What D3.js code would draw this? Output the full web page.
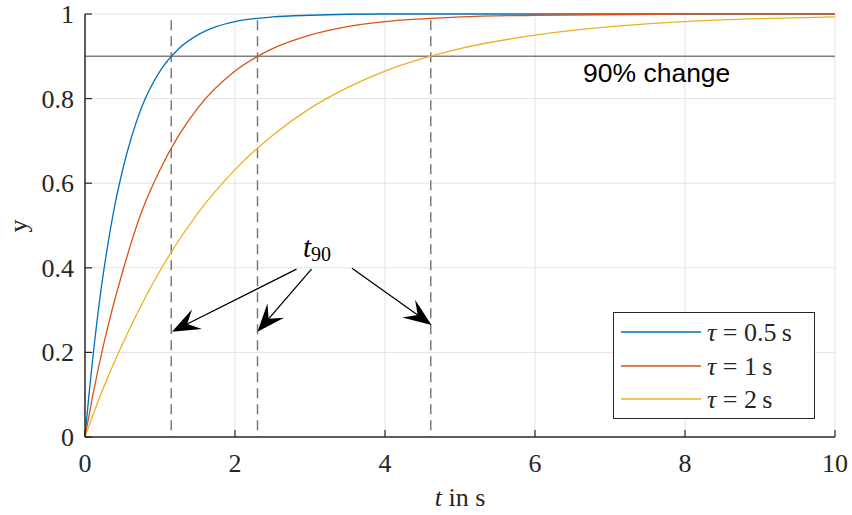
<!DOCTYPE html>
<html>
<head>
<meta charset="utf-8">
<script src="https://cdn.jsdelivr.net/npm/d3@7"></script>
<style>
  html, body { margin: 0; padding: 0; background: #fff; }
  svg { display: block; }
  .tick-label { font-family: "Liberation Serif", "DejaVu Serif", serif; font-size: 26px; fill: #262626; }
</style>
</head>
<body>
<div id="chart"></div>
<script>
// values
const tFast = [0, 0.05, 0.1, 0.2, 0.3, 0.4, 0.5, 0.75, 1, 1.25, 1.5, 1.75, 2, 2.5, 3, 4, 6, 8, 10];
const yFast = [0, 0.095, 0.18, 0.33, 0.45, 0.55, 0.63, 0.777, 0.865, 0.918, 0.95, 0.97, 0.982, 0.993, 0.997, 1, 1, 1, 1];

const tMid = [0, 0.1, 0.25, 0.5, 0.75, 1, 1.25, 1.5, 2, 2.5, 3, 3.5, 4, 5, 6, 8, 10];
const yMid = [0, 0.095, 0.22, 0.39, 0.53, 0.632, 0.713, 0.777, 0.865, 0.918, 0.95, 0.97, 0.982, 0.993, 0.997, 1, 1];

const tSlow = [0, 0.25, 0.5, 1, 1.5, 2, 2.5, 3, 3.5, 4, 5, 6, 7, 8, 9, 10];
const ySlow = [0, 0.118, 0.22, 0.393, 0.528, 0.632, 0.713, 0.777, 0.826, 0.865, 0.918, 0.95, 0.97, 0.982, 0.989, 0.993];

const seriesNames = ["\u03C4 = 0.5\u2009s", "\u03C4 = 1\u2009s", "\u03C4 = 2\u2009s"];
const seriesColors = ["#0072BD", "#D95319", "#EDB120"];

const t90 = [1.15, 2.30, 4.61];
const level90 = 0.9;

// arrow start / tip in data units
const arrows = [
    { x0: 2.82, y0: 0.397, x1: 1.16, y1: 0.249 },
    { x0: 3.02, y0: 0.397, x1: 2.30, y1: 0.249 },
    { x0: 3.56, y0: 0.399, x1: 4.62, y1: 0.265 }
];

const xTicks = [0, 2, 4, 6, 8, 10];
const yTicks = [0, 0.2, 0.4, 0.6, 0.8, 1];

const width = 852, height = 515;
const margin = { left: 85, right: 17, top: 14, bottom: 78 };

const svg = d3.select("#chart").append("svg")
    .attr("width", width)
    .attr("height", height);

const x = d3.scaleLinear().domain([0, 10]).range([margin.left, width - margin.right]);
const y = d3.scaleLinear().domain([0, 1]).range([height - margin.bottom, margin.top]);

// grid
svg.append("g").selectAll("line.vg")
    .data(xTicks.slice(1))
    .enter().append("line")
    .attr("x1", d => x(d)).attr("x2", d => x(d))
    .attr("y1", y(0)).attr("y2", y(1))
    .attr("stroke", "#e3e3e3").attr("stroke-width", 1);

svg.append("g").selectAll("line.hg")
    .data(yTicks.slice(1))
    .enter().append("line")
    .attr("x1", x(0)).attr("x2", x(10))
    .attr("y1", d => y(d)).attr("y2", d => y(d))
    .attr("stroke", "#e3e3e3").attr("stroke-width", 1);

// 90% level
svg.append("line")
    .attr("x1", x(0)).attr("x2", x(10))
    .attr("y1", y(level90)).attr("y2", y(level90))
    .attr("stroke", "#808080").attr("stroke-width", 1.5);

// t90 dashed lines
svg.append("g").selectAll("line")
    .data(t90)
    .enter().append("line")
    .attr("x1", d => x(d)).attr("x2", d => x(d))
    .attr("y1", y(0.985)).attr("y2", y(0))
    .attr("stroke", "#7a7a7a").attr("stroke-width", 1.5)
    .attr("stroke-dasharray", "10,6");

// curves
const line = d3.line()
    .x(d => x(d[0]))
    .y(d => y(d[1]))
    .curve(d3.curveMonotoneX);

const series = [
    d3.zip(tFast, yFast),
    d3.zip(tMid, yMid),
    d3.zip(tSlow, ySlow)
];

svg.append("g").selectAll("path")
    .data(series)
    .enter().append("path")
    .attr("d", line)
    .attr("fill", "none")
    .attr("stroke", (d, i) => seriesColors[i])
    .attr("stroke-width", 1.3);

// axes (left and bottom only, ticks inward)
const axisColor = "#262626";
svg.append("line")
    .attr("x1", x(0)).attr("x2", x(10))
    .attr("y1", y(0)).attr("y2", y(0))
    .attr("stroke", axisColor).attr("stroke-width", 1.5);
svg.append("line")
    .attr("x1", x(0)).attr("x2", x(0))
    .attr("y1", y(0)).attr("y2", y(1))
    .attr("stroke", axisColor).attr("stroke-width", 1.5);

svg.append("g").selectAll("line")
    .data(xTicks)
    .enter().append("line")
    .attr("x1", d => x(d)).attr("x2", d => x(d))
    .attr("y1", y(0)).attr("y2", y(0) - 7)
    .attr("stroke", axisColor).attr("stroke-width", 1.2);

svg.append("g").selectAll("line")
    .data(yTicks)
    .enter().append("line")
    .attr("x1", x(0)).attr("x2", x(0) + 7)
    .attr("y1", d => y(d)).attr("y2", d => y(d))
    .attr("stroke", axisColor).attr("stroke-width", 1.2);

svg.append("g").selectAll("text")
    .data(xTicks)
    .enter().append("text")
    .attr("class", "tick-label")
    .attr("x", d => x(d))
    .attr("y", y(0) + 35)
    .attr("text-anchor", "middle")
    .text(d => d);

svg.append("g").selectAll("text")
    .data(yTicks)
    .enter().append("text")
    .attr("class", "tick-label")
    .attr("x", x(0) - 11)
    .attr("y", d => y(d) + 9)
    .attr("text-anchor", "end")
    .text(d => d);

// axis labels
const xl = svg.append("text")
    .attr("class", "tick-label")
    .attr("x", 460).attr("y", 506)
    .attr("text-anchor", "middle");
xl.append("tspan").attr("font-style", "italic").text("t");
xl.append("tspan").text(" in s");

svg.append("text")
    .attr("class", "tick-label")
    .attr("transform", "translate(27,226) rotate(-90)")
    .attr("text-anchor", "middle")
    .text("y");

// 90% change label
svg.append("text")
    .attr("x", 583).attr("y", 82)
    .attr("font-family", "'Liberation Sans', Arial, sans-serif")
    .attr("font-size", 26.5)
    .attr("fill", "#000")
    .text("90% change");

// t90 label
const tl = svg.append("text")
    .attr("x", 303).attr("y", 257)
    .attr("font-family", "'Liberation Serif', serif")
    .attr("font-size", 29)
    .attr("fill", "#000");
tl.append("tspan").attr("font-style", "italic").text("t");
tl.append("tspan").attr("font-size", 20).attr("dy", 4).text("90");

// arrows
const arrowG = svg.append("g");
arrows.forEach(a => {
    const px0 = x(a.x0), py0 = y(a.y0), px1 = x(a.x1), py1 = y(a.y1);
    const dx = px1 - px0, dy = py1 - py0;
    const len = Math.hypot(dx, dy);
    const ux = dx / len, uy = dy / len;
    const nx = -uy, ny = ux;
    const L = 28, W = 11, N = 17;
    arrowG.append("line")
        .attr("x1", px0).attr("y1", py0)
        .attr("x2", px1 - ux * N).attr("y2", py1 - uy * N)
        .attr("stroke", "#000").attr("stroke-width", 1.3);
    const pts = [
        [px1, py1],
        [px1 - ux * L + nx * W, py1 - uy * L + ny * W],
        [px1 - ux * N, py1 - uy * N],
        [px1 - ux * L - nx * W, py1 - uy * L - ny * W]
    ];
    arrowG.append("path")
        .attr("d", "M" + pts.map(p => p.join(",")).join("L") + "Z")
        .attr("fill", "#000");
});

// legend
const lg = svg.append("g");
lg.append("rect")
    .attr("x", 613.5).attr("y", 312.5)
    .attr("width", 201).attr("height", 106)
    .attr("fill", "#fff")
    .attr("stroke", "#262626").attr("stroke-width", 1);

const rowY = [332, 366, 399];
seriesNames.forEach((name, i) => {
    lg.append("line")
        .attr("x1", 621).attr("x2", 701)
        .attr("y1", rowY[i]).attr("y2", rowY[i])
        .attr("stroke", seriesColors[i]).attr("stroke-width", 1.3);
    const t = lg.append("text")
        .attr("class", "tick-label")
        .attr("x", 707).attr("y", rowY[i] + 9)
        .attr("fill", "#000");
    t.append("tspan").attr("font-style", "italic").text("\u03C4");
    t.append("tspan").text(name.slice(1));
});
</script>
</body>
</html>
